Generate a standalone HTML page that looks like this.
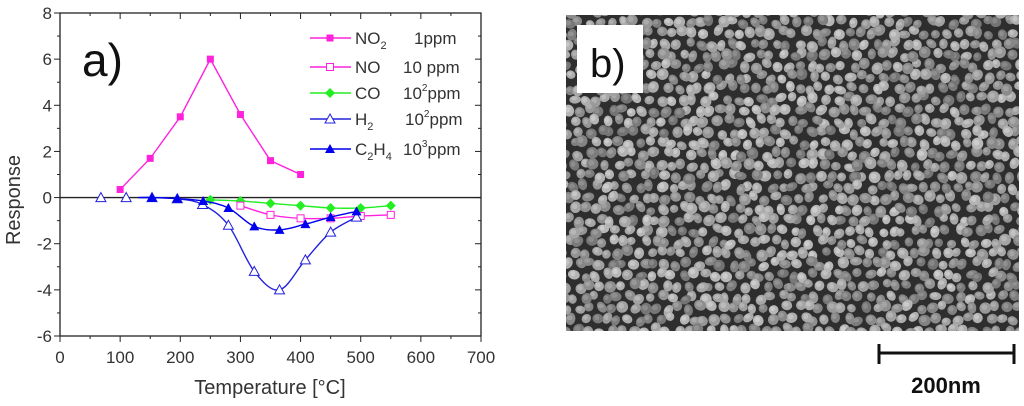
<!DOCTYPE html>
<html><head><meta charset="utf-8"><style>
html,body{margin:0;padding:0;background:#fff;width:1024px;height:406px;overflow:hidden}
svg{display:block;font-family:"Liberation Sans",sans-serif}
</style></head><body>
<svg id="root" width="1024" height="406" viewBox="0 0 1024 406">
<g id="chart"></g>
<g id="sem"></g>
</svg>
<script>
const NS='http://www.w3.org/2000/svg';
const xTicks=[0,100,200,300,400,500,600,700];
const yTicks=[-6,-4,-2,0,2,4,6,8];
const no2X=[100,150,200,250,300,350,400];
const no2Y=[0.35,1.7,3.5,6.0,3.6,1.6,1.0];
const noX=[300,350,400,450,500,550];
const noY=[-0.35,-0.75,-0.9,-0.9,-0.8,-0.75];
const coX=[250,300,350,400,450,500,550];
const coY=[-0.1,-0.15,-0.25,-0.35,-0.45,-0.45,-0.35];
const h2X=[68,110,153,195,237,280,323,365,408,450,493];
const h2Y=[0,0,0,-0.05,-0.3,-1.2,-3.2,-4.0,-2.7,-1.5,-0.85];
const c2h4X=[153,195,238,280,323,365,408,450,493];
const c2h4Y=[0,-0.05,-0.15,-0.45,-1.25,-1.4,-1.15,-0.85,-0.6];

const X0=60,X1=481,Y0=336,Y1=13,xMin=0,xMax=700,yMin=-6,yMax=8;
const sx=v=>X0+(v-xMin)/(xMax-xMin)*(X1-X0);
const sy=v=>Y0-(v-yMin)/(yMax-yMin)*(Y0-Y1);
function mk(tag,attrs,parent,text){const e=document.createElementNS(NS,tag);for(const k in attrs)e.setAttribute(k,attrs[k]);if(text!==undefined)e.textContent=text;parent.appendChild(e);return e;}
const chart=document.getElementById('chart');

let f=mk('rect',{x:X0,y:Y1,width:X1-X0,height:Y0-Y1,fill:'none',stroke:'#222','stroke-width':1.3},chart);


for(let v=0;v<=700;v+=50){const x=sx(v),L=v%100===0?6:3;
 mk('line',{x1:x,x2:x,y1:Y0,y2:Y0+L,stroke:'#222'},chart);
 mk('line',{x1:x,x2:x,y1:Y1,y2:Y1+L,stroke:'#222'},chart);}
for(let v=-6;v<=8;v+=1){const y=sy(v),L=v%2===0?6:3;
 mk('line',{x1:X0,x2:X0-L,y1:y,y2:y,stroke:'#222'},chart);
 mk('line',{x1:X1,x2:X1-L,y1:y,y2:y,stroke:'#222'},chart);}
xTicks.forEach(v=>{const t=mk('text',{x:sx(v),y:363,'font-size':17,'text-anchor':'middle',fill:'#333'},chart,String(v));
 
 });
yTicks.forEach(v=>{const t=mk('text',{x:52,y:sy(v)+6,'font-size':17,'text-anchor':'end',fill:'#333'},chart,String(v));
 
 });
let t=mk('text',{x:270,y:394,'font-size':20,'text-anchor':'middle',fill:'#333'},chart,'Temperature [°C]');


t=mk('text',{x:0,y:0,'font-size':20,'text-anchor':'middle',fill:'#333',transform:'translate(20,200) rotate(-90)'},chart,'Response');


t=mk('text',{x:82,y:76,'font-size':46,fill:'#111'},chart,'a)');


let z=mk('line',{x1:X0,x2:X1,y1:sy(0),y2:sy(0),stroke:'#222','stroke-width':1.3},chart);



function smooth(pts){let d='M'+pts[0][0]+','+pts[0][1];
 for(let i=0;i<pts.length-1;i++){const p0=pts[Math.max(0,i-1)],p1=pts[i],p2=pts[i+1],p3=pts[Math.min(pts.length-1,i+2)];
  d+=' C'+(p1[0]+(p2[0]-p0[0])/6)+','+(p1[1]+(p2[1]-p0[1])/6)+' '+(p2[0]-(p3[0]-p1[0])/6)+','+(p2[1]-(p3[1]-p1[1])/6)+' '+p2[0]+','+p2[1];}
 return d;}
function marker(g,type,x,y,color){
 if(type==='sq')return mk('rect',{x:x-3.5,y:y-3.5,width:7,height:7,fill:color},g);
 if(type==='sqo')return mk('rect',{x:x-3.5,y:y-3.5,width:7,height:7,fill:'#fff',stroke:color,'stroke-width':1},g);
 if(type==='dia')return mk('polygon',{points:`${x},${y-5} ${x+5},${y} ${x},${y+5} ${x-5},${y}`,fill:color},g);
 if(type==='tri')return mk('polygon',{points:`${x},${y-5} ${x+5},${y+4} ${x-5},${y+4}`,fill:color},g);
 if(type==='trio')return mk('polygon',{points:`${x},${y-5} ${x+5},${y+4} ${x-5},${y+4}`,fill:'#fff',stroke:color,'stroke-width':1},g);
}
function series(name,xs,ys,color,type,smoothed,lineStart){
 const g=mk('g',{},chart);
 
 
 let pts=xs.map((v,i)=>[sx(v),sy(ys[i])]);
 let lp=pts.filter(p=>lineStart===undefined||p[0]>=sx(lineStart));
 if(lineStart!==undefined)lp.unshift([sx(lineStart),sy(0)]);
 const d=smoothed?smooth(lp):'M'+lp.map(p=>p.join(',')).join(' L');
 mk('path',{d:d,fill:'none',stroke:color,'stroke-width':1.4},g);
 pts.forEach(p=>{const m=marker(g,type,p[0],p[1],color);
  
  });
}
series('co',coX,coY,'#22ee22','dia',true);
series('no',noX,noY,'#ff22dd','sqo',true);
series('h2',h2X,h2Y,'#2222dd','trio',true,130);
series('c2h4',c2h4X,c2h4Y,'#0000ee','tri',true,130);
series('no2',no2X,no2Y,'#ff22dd','sq',false);

const leg=mk('g',{},chart);


const legRows=[['NO','2','1ppm','#ff22dd','sq',38,'',414],['NO','','10 ppm','#ff22dd','sqo',67,'',403],['CO','','10','#22ee22','dia',93,'2',403],['H','2','10','#2222dd','trio',119,'2',405],['C','2','10','#0000ee','tri',149,'3',403]];
legRows.forEach(r=>{
 const g=mk('g',{},leg);
 
 
 mk('line',{x1:310,x2:351,y1:r[5],y2:r[5],stroke:r[3],'stroke-width':1.4},g);
 marker(g,r[4],330,r[5],r[3]);
 const tx=mk('text',{x:355,y:r[5]+6,'font-size':17,fill:'#333'},g);
 tx.appendChild(document.createTextNode(r[0]));
 if(r[1]){mk('tspan',{'font-size':11,dy:5},tx,r[1]);}
 if(r[4]==='tri'){mk('tspan',{'font-size':17,dy:-5},tx,'H');mk('tspan',{'font-size':11,dy:5},tx,'4');}
 const t2=mk('text',{x:r[7],y:r[5]+6,'font-size':17,fill:'#333'},g,r[2]);
 if(r[6]){mk('tspan',{'font-size':10,dy:-8},t2,r[6]);mk('tspan',{'font-size':17,dy:8},t2,'ppm');}
});

const sem=document.getElementById('sem');
const SX=566,SY=15,SW=453,SH=316;
mk('defs',{},sem).innerHTML='<clipPath id="semclip"><rect x="566" y="15" width="453" height="316"/></clipPath>';
const sg=mk('g',{'clip-path':'url(#semclip)'},sem);
mk('rect',{x:SX,y:SY,width:SW,height:SH,fill:'#2e2e2e'},sg);
let seed=12345;const rnd=()=>{seed=(seed*1103515245+12345)%2147483648;return seed/2147483648;};
const grains=[];
for(let yy=SY-4;yy<SY+SH+10;yy+=11){for(let xx=SX-4+((Math.round((yy-SY)/11))%2?5.5:0);xx<SX+SW+10;xx+=11){
 grains.push([xx+(rnd()-0.5)*6,yy+(rnd()-0.5)*6,4.2+rnd()*2,4+rnd()*2,rnd()*180,Math.floor(115+rnd()*70)]);}}
grains.sort(()=>rnd()-0.5);
grains.forEach(g=>{const c=g[5];
 mk('ellipse',{cx:g[0],cy:g[1],rx:g[2],ry:g[3],transform:`rotate(${g[4]} ${g[0]} ${g[1]})`,fill:`rgb(${c},${c},${c})`},sg);
 const c2=Math.min(230,c+35);
 mk('ellipse',{cx:g[0]-1,cy:g[1]-1,rx:g[2]*0.5,ry:g[3]*0.5,fill:`rgb(${c2},${c2},${c2})`,opacity:0.6},sg);});
let bb=mk('rect',{x:577,y:25,width:66,height:68,fill:'#fff'},sem);


t=mk('text',{x:590,y:77,'font-size':40,fill:'#111'},sem,'b)');


const sb=mk('g',{stroke:'#111','stroke-width':3},sem);


mk('line',{x1:878,x2:1015,y1:353,y2:353},sb);
mk('line',{x1:879,x2:879,y1:344,y2:364},sb);
mk('line',{x1:1014,x2:1014,y1:344,y2:364},sb);
t=mk('text',{x:946,y:393,'font-size':22,'font-weight':'bold','text-anchor':'middle',fill:'#111'},sem,'200nm');


</script>
</body></html>
